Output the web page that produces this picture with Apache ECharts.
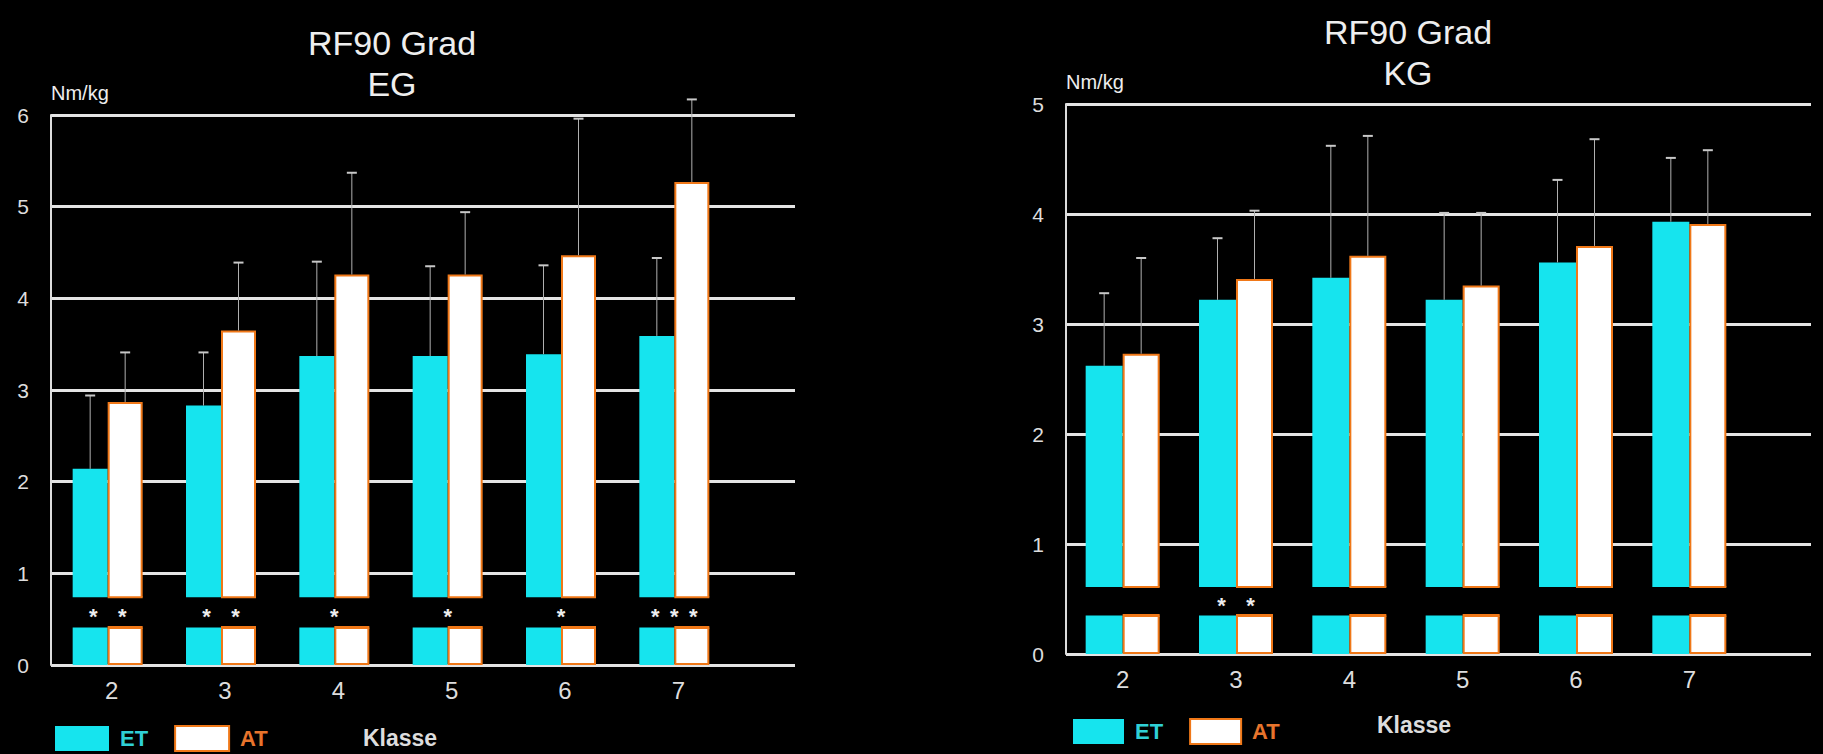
<!DOCTYPE html>
<html>
<head>
    <meta charset="utf-8" />
    <title>RF90 Grad EG / KG</title>
    <script src="https://cdn.jsdelivr.net/npm/echarts@6.0.0/dist/echarts.min.js"></script>
    <style>
        html, body { margin: 0; padding: 0; background: #000; }
        #main { width: 1823px; height: 754px; }
    </style>
</head>
<body>
<div id="main"></div>
<script type="text/javascript">
    // Klassen (x-Achse)
    var categories = ['2', '3', '4', '5', '6', '7'];

    // EG: Mittelwerte und obere Fehlerbalken (Nm/kg)
    var egET = [2.14, 2.83, 3.37, 3.37, 3.39, 3.59];
    var egAT = [2.87, 3.65, 4.26, 4.26, 4.47, 5.27];
    var egETerr = [2.94, 3.41, 4.40, 4.35, 4.36, 4.44];
    var egATerr = [3.41, 4.39, 5.37, 4.94, 5.96, 6.17];
    var egStars = [2, 2, 1, 1, 1, 3];
    var egBreak = [0.41, 0.74];

    // KG
    var kgET = [2.62, 3.22, 3.42, 3.22, 3.56, 3.93];
    var kgAT = [2.73, 3.41, 3.62, 3.35, 3.71, 3.91];
    var kgETerr = [3.28, 3.78, 4.62, 4.01, 4.31, 4.51];
    var kgATerr = [3.60, 4.03, 4.71, 4.01, 4.68, 4.58];
    var kgStars = [0, 2, 0, 0, 0, 0];
    var kgBreak = [0.35, 0.61];

    var FONT = "'Liberation Sans', Arial, sans-serif";
    var CYAN = '#16e4ee';
    var ORANGE = '#f07818';

    // Fehlerbalken (nur nach oben)
    function errSeries(axis, vals, tops, side, bw) {
        return {
            type: 'custom', name: 'err', xAxisIndex: axis, yAxisIndex: axis, z: 4, silent: true,
            encode: { x: 0, y: [1, 2] },
            data: vals.map(function (v, i) { return [i, v, tops[i]]; }),
            renderItem: function (params, api) {
                var base = api.coord([api.value(0), api.value(1)]);
                var top = api.coord([api.value(0), api.value(2)]);
                var x = base[0] + side * bw / 2;
                return { type: 'group', children: [
                    { type: 'line', shape: { x1: x, y1: base[1], x2: x, y2: top[1] }, style: { stroke: '#b0b0b0', lineWidth: 1 } },
                    { type: 'line', shape: { x1: x - 5, y1: top[1], x2: x + 5, y2: top[1] }, style: { stroke: '#c8c8c8', lineWidth: 2 } }
                ]};
            }
        };
    }

    // schwarzer Bruchstreifen mit Signifikanzsternen
    function breakSeries(axis, stars, brk, bw) {
        return {
            type: 'custom', name: 'break', xAxisIndex: axis, yAxisIndex: axis, z: 5, silent: true,
            encode: { x: 0, y: 1 },
            data: stars.map(function (n, i) { return [i, brk[0], n]; }),
            renderItem: function (params, api) {
                var i = api.value(0);
                var lo = api.coord([i, brk[0]]);
                var hi = api.coord([i, brk[1]]);
                var cx = lo[0];
                var kids = [
                    { type: 'rect', shape: { x: cx - bw - 2, y: hi[1], width: 2 * bw + 4, height: lo[1] - hi[1] }, style: { fill: '#000' } },
                    { type: 'line', shape: { x1: cx, y1: lo[1], x2: cx + bw, y2: lo[1] }, style: { stroke: ORANGE, lineWidth: 3 } },
                    { type: 'line', shape: { x1: cx, y1: hi[1], x2: cx + bw, y2: hi[1] }, style: { stroke: ORANGE, lineWidth: 2 } }
                ];
                var n = api.value(2);
                var sp = n === 3 ? 19 : 29;
                var ym = (lo[1] + hi[1]) / 2;
                for (var k = 0; k < n; k++) {
                    kids.push({ type: 'text', x: cx + (k - (n - 1) / 2) * sp, y: ym + 4,
                        style: { text: '*', fill: '#eee', font: 'bold 22px ' + FONT, align: 'center', verticalAlign: 'middle' } });
                }
                return { type: 'group', children: kids };
            }
        };
    }

    function gridAxisY(max) {
        return {
            type: 'value', min: 0, max: max, interval: 1,
            axisLine: { show: true, lineStyle: { color: '#ddd', width: 2 } },
            axisTick: { show: false },
            axisLabel: { color: '#ddd', fontSize: 21, fontFamily: FONT, margin: 22, padding: [8, 0, 0, 0] },
            splitLine: { show: true, lineStyle: { color: '#e4e4e4', width: 3 } },
            name: 'Nm/kg', nameLocation: 'end', nameGap: 22,
            nameTextStyle: { color: '#eee', fontSize: 20, fontFamily: FONT, align: 'left', verticalAlign: 'middle' }
        };
    }

    function catAxis(grid, pad) {
        return {
            gridIndex: grid, type: 'category', data: categories,
            axisLine: { show: false }, axisTick: { show: false },
            axisLabel: { color: '#ddd', fontSize: 24, fontFamily: FONT, margin: 13, padding: [0, 0, 0, pad] }
        };
    }

    function legendFor(left, top, w) {
        return {
            left: left, top: top, padding: 0, itemWidth: w, itemHeight: 25, itemGap: 26, icon: 'rect', selectedMode: false,
            data: [
                { name: 'ET', textStyle: { color: '#2fd0d6' } },
                { name: 'AT', textStyle: { color: '#e8742c' } }
            ],
            textStyle: { fontSize: 22, fontWeight: 'bold', fontFamily: FONT, padding: [0, 0, 0, 6] }
        };
    }

    var myChart = echarts.init(document.getElementById('main'), null, { renderer: 'svg' });
    var option = {
        backgroundColor: '#000',
        animation: false,
        grid: [
            { left: 51, top: 115, width: 744, height: 550 },
            { left: 51, top: 115, width: 680, height: 550 },
            { left: 1066, top: 104, width: 745, height: 550 },
            { left: 1066, top: 104, width: 680, height: 550 }
        ],
        xAxis: [
            { gridIndex: 0, type: 'value', min: 0, max: 1, show: false },
            catAxis(1, 8),
            { gridIndex: 2, type: 'value', min: 0, max: 1, show: false },
            catAxis(3, 0)
        ],
        yAxis: [
            Object.assign({ gridIndex: 0 }, gridAxisY(6)),
            { gridIndex: 1, type: 'value', min: 0, max: 6, show: false },
            Object.assign({ gridIndex: 2 }, gridAxisY(5)),
            { gridIndex: 3, type: 'value', min: 0, max: 5, show: false }
        ],
        legend: [legendFor(55, 725, 54), legendFor(1073, 718, 51)],
        graphic: [
            { type: 'text', x: 392, y: 43, style: { text: 'RF90 Grad', fill: '#eee', font: '34px ' + FONT, align: 'center', verticalAlign: 'middle' } },
            { type: 'text', x: 392, y: 84, style: { text: 'EG', fill: '#eee', font: '34px ' + FONT, align: 'center', verticalAlign: 'middle' } },
            { type: 'text', x: 1408, y: 32, style: { text: 'RF90 Grad', fill: '#eee', font: '34px ' + FONT, align: 'center', verticalAlign: 'middle' } },
            { type: 'text', x: 1408, y: 73, style: { text: 'KG', fill: '#eee', font: '34px ' + FONT, align: 'center', verticalAlign: 'middle' } },
            { type: 'text', x: 363, y: 738, style: { text: 'Klasse', fill: '#ddd', font: 'bold 23px ' + FONT, verticalAlign: 'middle' } },
            { type: 'text', x: 1377, y: 725, style: { text: 'Klasse', fill: '#ddd', font: 'bold 23px ' + FONT, verticalAlign: 'middle' } }
        ],
        series: [
            { type: 'bar', name: 'ET', xAxisIndex: 1, yAxisIndex: 1, data: egET, barWidth: 35, barGap: '0%', itemStyle: { color: CYAN } },
            { type: 'bar', name: 'AT', xAxisIndex: 1, yAxisIndex: 1, data: egAT, barWidth: 35, barGap: '0%', itemStyle: { color: '#fff', borderColor: ORANGE, borderWidth: 2 } },
            { type: 'bar', name: 'ET', xAxisIndex: 3, yAxisIndex: 3, data: kgET, barWidth: 37, barGap: '0%', itemStyle: { color: CYAN } },
            { type: 'bar', name: 'AT', xAxisIndex: 3, yAxisIndex: 3, data: kgAT, barWidth: 37, barGap: '0%', itemStyle: { color: '#fff', borderColor: ORANGE, borderWidth: 2 } },
            errSeries(1, egET, egETerr, -1, 35),
            errSeries(1, egAT, egATerr, 1, 35),
            errSeries(3, kgET, kgETerr, -1, 37),
            errSeries(3, kgAT, kgATerr, 1, 37),
            breakSeries(1, egStars, egBreak, 35),
            breakSeries(3, kgStars, kgBreak, 37)
        ]
    };
    myChart.setOption(option);
</script>
</body>
</html>
